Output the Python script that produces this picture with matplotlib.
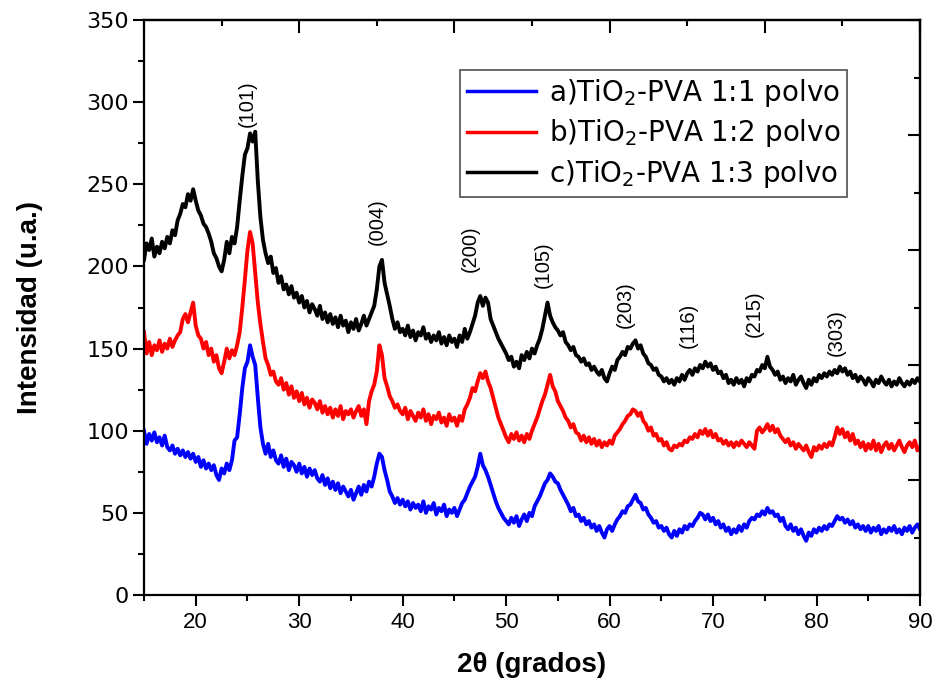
import numpy as np
import matplotlib
matplotlib.use("Agg")
import matplotlib.pyplot as plt
from matplotlib.ticker import MultipleLocator, NullFormatter

# ---------------- data (0.25 deg steps) ----------------
two_theta = np.linspace(15, 90, 301)

# c) TiO2-PVA 1:3 polvo (black)
int_c = [
    204, 214, 210, 217, 206, 212, 208, 215, 211, 218, 214, 222, 219, 228, 232, 238, 236, 244, 240, 247,
    240, 234, 231, 226, 224, 220, 215, 208, 205, 200, 197, 204, 215, 208, 218, 214, 224, 240, 255, 268,
    272, 281, 276, 282, 252, 230, 216, 208, 202, 206, 196, 199, 190, 194, 186, 189, 183, 188, 181, 184,
    178, 182, 175, 179, 172, 177, 174, 170, 176, 168, 172, 166, 171, 165, 169, 163, 170, 164, 167, 160,
    166, 162, 168, 161, 165, 170, 164, 168, 172, 176, 186, 200, 204, 190, 183, 176, 168, 162, 166, 160,
    162, 158, 164, 157, 161, 155, 160, 158, 163, 156, 159, 154, 158, 155, 160, 153, 157, 152, 158, 154,
    156, 151, 158, 154, 162, 156, 160, 165, 170, 178, 182, 176, 181, 178, 168, 164, 160, 156, 153, 150,
    147, 143, 145, 139, 142, 138, 146, 143, 148, 144, 150, 147, 152, 156, 162, 170, 178, 170, 166, 163,
    161, 158, 160, 154, 152, 149, 151, 146, 145, 142, 144, 140, 141, 137, 139, 136, 134, 137, 132, 130,
    135, 139, 137, 143, 145, 148, 146, 151, 150, 153, 155, 150, 152, 147, 145, 141, 140, 137, 138, 134,
    133, 130, 132, 129, 131, 128, 132, 130, 134, 131, 135, 137, 134, 138, 136, 140, 138, 142, 139, 141,
    137, 139, 135, 136, 132, 134, 129, 131, 128, 132, 129, 131, 127, 132, 130, 134, 133, 137, 136, 140,
    138, 145, 139, 137, 134, 136, 131, 133, 129, 132, 130, 134, 128, 131, 133, 129, 126, 131, 128, 132,
    130, 134, 132, 135, 133, 136, 134, 137, 135, 139, 136, 138, 134, 136, 132, 134, 130, 133, 131, 128,
    132, 130, 127, 131, 129, 133, 130, 128, 131, 127, 130, 128, 132, 129, 127, 130, 128, 131, 129, 132,
    130,
]

# b) TiO2-PVA 1:2 polvo (red)
int_b = [
    160, 147, 154, 146, 152, 149, 155, 148, 153, 150, 156, 151, 155, 158, 160, 168, 171, 166, 172, 178,
    164, 158, 156, 150, 154, 146, 150, 142, 146, 138, 135, 142, 150, 144, 149, 146, 152, 160, 175, 192,
    210, 221, 214, 196, 178, 165, 154, 144, 140, 134, 136, 130, 128, 132, 125, 129, 122, 127, 120, 124,
    118, 123, 116, 120, 114, 119, 117, 113, 118, 111, 115, 110, 114, 108, 113, 109, 115, 107, 112, 110,
    113, 108, 112, 115, 109, 113, 104, 118, 124, 128, 136, 152, 146, 132, 127, 121, 118, 114, 116, 112,
    110, 114, 107, 112, 109, 106, 111, 108, 113, 106, 110, 104, 109, 107, 111, 105, 108, 103, 110, 106,
    108, 103, 109, 106, 113, 116, 120, 126, 124, 130, 135, 132, 136, 130, 126, 120, 114, 108, 104, 100,
    96, 93, 98, 95, 99, 94, 97, 93, 98, 95, 100, 104, 108, 113, 118, 122, 128, 134, 127, 124,
    118, 115, 112, 108, 106, 102, 104, 99, 98, 94, 97, 93, 96, 92, 95, 91, 94, 90, 93, 91,
    94, 92, 97, 99, 101, 104, 106, 109, 110, 113, 112, 109, 111, 106, 104, 100, 102, 97, 98, 94,
    95, 91, 93, 89, 88, 91, 90, 92, 91, 94, 93, 96, 95, 98, 96, 100, 98, 101, 97, 100,
    96, 98, 94, 95, 92, 94, 91, 93, 90, 93, 91, 94, 92, 90, 93, 91, 89, 100, 102, 99,
    101, 104, 100, 103, 99, 101, 97, 95, 93, 95, 91, 93, 89, 92, 90, 88, 91, 87, 84, 90,
    88, 91, 89, 92, 90, 93, 91, 96, 102, 98, 101, 96, 99, 94, 98, 92, 94, 90, 93, 88,
    92, 89, 94, 88, 92, 87, 91, 93, 89, 92, 88, 91, 94, 90, 87, 91, 93, 90, 94, 88,
    90,
]

# a) TiO2-PVA 1:1 polvo (blue)
int_a = [
    100, 92, 98, 94, 99, 93, 96, 91, 97, 90, 88, 91, 86, 89, 85, 88, 84, 87, 83, 86,
    81, 84, 78, 82, 77, 80, 76, 79, 73, 70, 77, 74, 80, 76, 82, 94, 96, 110, 126, 138,
    142, 152, 145, 140, 120, 102, 92, 86, 92, 84, 88, 82, 80, 85, 78, 83, 76, 81, 79, 75,
    80, 74, 78, 72, 77, 73, 76, 71, 69, 73, 67, 71, 65, 69, 64, 68, 62, 66, 63, 60,
    64, 58, 62, 66, 61, 67, 63, 69, 66, 72, 80, 86, 84, 76, 70, 63, 60, 56, 59, 55,
    58, 54, 57, 52, 56, 53, 55, 51, 57, 50, 54, 52, 56, 49, 53, 51, 55, 48, 52, 50,
    53, 48, 52, 56, 58, 62, 66, 69, 72, 78, 86, 79, 76, 72, 67, 62, 57, 53, 50, 47,
    45, 43, 47, 44, 48, 42, 46, 49, 45, 50, 48, 54, 57, 60, 64, 68, 70, 74, 72, 69,
    68, 64, 61, 58, 55, 51, 53, 48, 49, 45, 47, 43, 45, 41, 43, 39, 42, 38, 35, 40,
    42, 39, 43, 46, 48, 51, 50, 54, 55, 58, 61, 57, 56, 52, 53, 49, 47, 44, 45, 41,
    42, 39, 41, 37, 35, 39, 36, 40, 38, 42, 40, 43, 42, 45, 47, 50, 49, 46, 49, 45,
    47, 43, 45, 41, 43, 39, 41, 37, 40, 38, 42, 39, 43, 41, 45, 47, 46, 49, 48, 51,
    49, 53, 50, 51, 48, 49, 45, 47, 42, 40, 43, 39, 41, 37, 40, 36, 33, 38, 36, 40,
    38, 41, 39, 42, 40, 43, 42, 45, 48, 46, 47, 44, 46, 43, 45, 41, 43, 40, 42, 39,
    42, 38, 41, 39, 42, 37, 40, 38, 41, 39, 42, 38, 40, 37, 41, 39, 42, 38, 41, 43,
    40,
]

series_labels = [r"a)TiO$_2$-PVA 1:1 polvo",
                 r"b)TiO$_2$-PVA 1:2 polvo",
                 r"c)TiO$_2$-PVA 1:3 polvo"]
series_colors = ["#0000FF", "#FF0000", "#000000"]

peak_labels = ["(101)", "(004)", "(200)", "(105)", "(203)", "(116)", "(215)", "(303)"]
peak_x = [25.0, 37.5, 46.5, 53.6, 61.5, 67.6, 74.0, 81.9]
peak_y = [299, 227, 211, 201, 177, 164, 171, 160]

# ---------------- figure ----------------
plt.rcParams["font.family"] = ["Liberation Sans", "DejaVu Sans"]
plt.rcParams["mathtext.fontset"] = "dejavusans"

fig = plt.figure(figsize=(9.38, 6.86), dpi=100)
ax = fig.add_axes([144 / 938, 91 / 686, 776 / 938, 575 / 686])

for y, lab, col in zip([int_a, int_b, int_c], series_labels, series_colors):
    ax.plot(two_theta, y, color=col, lw=2.8, label=lab, solid_joinstyle="round")

ax.set_xlim(15, 90)
ax.set_ylim(0, 350)

ax.xaxis.set_major_locator(MultipleLocator(10))
ax.xaxis.set_minor_locator(MultipleLocator(5))
ax.yaxis.set_major_locator(MultipleLocator(50))
ax.yaxis.set_minor_locator(MultipleLocator(25))
ax.set_xticks([20, 30, 40, 50, 60, 70, 80, 90])

ax.tick_params(axis="both", which="major", direction="out", length=8, width=1.5)
ax.tick_params(axis="both", which="minor", direction="out", length=4, width=1.5)
ax.tick_params(axis="x", labelsize=16, pad=4)
ax.tick_params(axis="y", labelsize=16, pad=3)
for t in ax.get_yticklabels():
    t.set_fontfamily("DejaVu Sans")
ax.tick_params(top=False, right=False)

for s in ax.spines.values():
    s.set_linewidth(1.6)

# top axis: independent ticks (major 15, minor 7.5), inward
axt = ax.secondary_xaxis("top")
axt.set_xticks([15, 30, 45, 60, 75, 90])
axt.xaxis.set_minor_locator(MultipleLocator(7.5))
axt.xaxis.set_major_formatter(NullFormatter())
axt.tick_params(which="major", direction="in", length=9, width=1.5)
axt.tick_params(which="minor", direction="in", length=4.5, width=1.5)
axt.spines["top"].set_linewidth(1.6)

# right axis: independent ticks (major 70, minor 35), inward
axr = ax.secondary_yaxis("right")
axr.set_yticks([0, 70, 140, 210, 280, 350])
axr.yaxis.set_minor_locator(MultipleLocator(35))
axr.yaxis.set_major_formatter(NullFormatter())
axr.tick_params(which="major", direction="in", length=9, width=1.5)
axr.tick_params(which="minor", direction="in", length=4.5, width=1.5)
axr.spines["right"].set_linewidth(1.6)

ax.set_xlabel("2θ (grados)", fontsize=20, fontweight="bold", labelpad=14)
ax.set_ylabel("Intensidad (u.a.)", fontsize=20, fontweight="bold", labelpad=31)

for lab, px, py in zip(peak_labels, peak_x, peak_y):
    ax.text(px, py, lab, rotation=90, ha="center", va="center", fontsize=14.5)

leg = ax.legend(loc="upper left", bbox_to_anchor=(460 / 938, 1 - 70 / 686),
                bbox_transform=fig.transFigure, borderaxespad=0,
                prop={"family": "DejaVu Sans", "size": 20},
                frameon=True, fancybox=False, handlelength=2.5,
                handletextpad=0.45, borderpad=0.25, labelspacing=0.3)
leg.get_frame().set_edgecolor("#333333")
leg.get_frame().set_linewidth(1.3)
for line in leg.get_lines():
    line.set_linewidth(2.5)

fig.savefig("out.png", dpi=100)
